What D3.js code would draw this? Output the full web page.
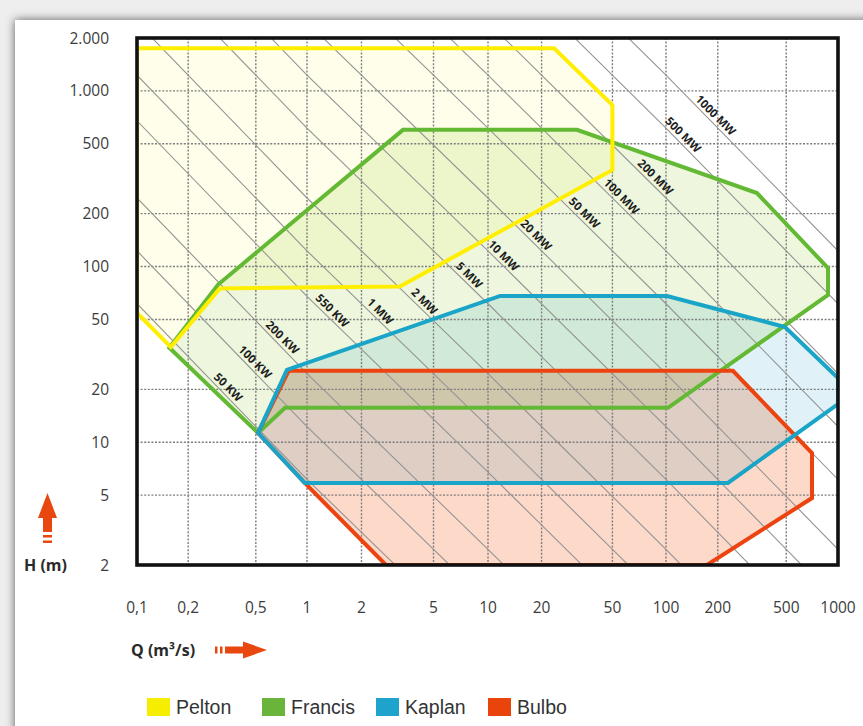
<!DOCTYPE html>
<html><head><meta charset="utf-8">
<script src="https://cdn.jsdelivr.net/npm/d3@7"></script>
<style>html,body{margin:0;padding:0;background:#fff;} svg{display:block}</style>
</head><body><svg id="c" width="863" height="726"></svg>
<script>
// ---------- data ----------
const qTicks = [0.1, 0.2, 0.5, 1, 2, 5, 10, 20, 50, 100, 200, 500, 1000];
const qTickLabels = ["0,1", "0,2", "0,5", "1", "2", "5", "10", "20", "50", "100", "200", "500", "1000"];
const hTicks = [2, 5, 10, 20, 50, 100, 200, 500, 1000, 2000];
const hTickLabels = ["2", "5", "10", "20", "50", "100", "200", "500", "1.000", "2.000"];

const turbines = ["Pelton", "Francis", "Kaplan", "Bulbo"];
// polygon vertices (Q in m3/s, H in m)
const peltonQ = [0.1, 23.5, 50, 50, 3.26, 0.307, 0.158, 0.1];
const peltonH = [1750, 1750, 830, 355, 77, 75, 34.8, 54.4];
const francisQ = [0.155, 0.30, 3.39, 31.6, 338, 875, 875, 102.7, 0.743, 0.515];
const francisH = [34.5, 79, 600, 600, 262, 98, 69, 15.7, 15.7, 11.3];
const kaplanQ = [0.515, 0.762, 11.7, 101.3, 492, 1000, 1000, 229, 0.97];
const kaplanH = [11.3, 25.8, 68, 68, 45.3, 23.2, 16.5, 5.86, 5.86];
const bulboQ = [0.515, 0.78, 245, 706, 706, 173, 2.73, 0.97];
const bulboH = [11.3, 25.5, 25.5, 8.68, 4.81, 2, 2, 5.86];

// constant-power lines (kW) with labels and where along each line (Q) the label sits
const powerKW = [50, 100, 200, 550, 1000, 2000, 5000, 10000, 20000, 50000, 100000, 200000, 500000, 1000000];
const powerLabels = ["50 KW", "100 KW", "200 KW", "550 KW", "1 MW", "2 MW", "5 MW", "10 MW", "20 MW", "50 MW", "100 MW", "200 MW", "500 MW", "1000 MW"];
const powerLabelQ = [0.32, 0.46, 0.667, 1.29, 2.37, 4.16, 7.37, 11.4, 17.4, 32.5, 52.5, 81.4, 117, 181];
const powerFactor = 9.81 * 0.83; // P[kW] = 9.81 * eta * Q * H

// ---------- styles ----------
const strokeColors = {Pelton: "#ffee00", Francis: "#63b934", Kaplan: "#1aa5c8", Bulbo: "#ec4410"};
const fillColors = {Pelton: "#fefeea", Francis: "#eef7de", Kaplan: "#e0f2f8", Bulbo: "#fdd9ca"};
const legendColors = {Pelton: "#f6ee00", Francis: "#6ab43c", Kaplan: "#1ea3cc", Bulbo: "#e8440c"};

const L = 137, R = 838, T = 38, B = 565;

const svg = d3.select("#c");
const defs = svg.append("defs");
const f = defs.append("filter").attr("id", "sh").attr("x", "-10%").attr("y", "-10%").attr("width", "120%").attr("height", "120%");
f.append("feGaussianBlur").attr("stdDeviation", 5);
defs.append("clipPath").attr("id", "plotclip").append("rect")
  .attr("x", L).attr("y", T).attr("width", R - L).attr("height", B - T);

// page background + card with soft shadow
svg.append("rect").attr("width", 863).attr("height", 726).attr("fill", "#eeeeee");
svg.append("rect").attr("x", 15).attr("y", 20).attr("width", 900).attr("height", 800).attr("fill", "#5a5a5a").attr("filter", "url(#sh)");
svg.append("rect").attr("x", 15).attr("y", 20).attr("width", 900).attr("height", 800).attr("fill", "#fff");

const x = d3.scaleLog().domain([0.1, 1, 10, 100, 1000]).range([137, 307, 488, 666, 838]);
const y = d3.scaleLog().domain([2, 2000]).range([B, T]);

const plot = svg.append("g").attr("clip-path", "url(#plotclip)");
plot.append("rect").attr("x", L).attr("y", T).attr("width", R - L).attr("height", B - T).attr("fill", "#fff");

const polys = {
  Pelton: d3.zip(peltonQ, peltonH),
  Francis: d3.zip(francisQ, francisH),
  Kaplan: d3.zip(kaplanQ, kaplanH),
  Bulbo: d3.zip(bulboQ, bulboH)
};
const line = d3.line().x(d => x(d[0])).y(d => y(d[1]));

// fills
["Pelton", "Francis", "Kaplan", "Bulbo"].forEach(t => {
  plot.append("path").attr("d", line(polys[t]) + "Z")
    .attr("fill", fillColors[t]).style("mix-blend-mode", "multiply");
});

// dotted grid
plot.append("g").selectAll("line").data(qTicks.slice(1, -1)).join("line")
  .attr("x1", d => x(d)).attr("x2", d => x(d)).attr("y1", T).attr("y2", B)
  .attr("stroke", "#7d7d7d").attr("stroke-width", 1.4).attr("stroke-dasharray", "2,1.6");
plot.append("g").selectAll("line").data(hTicks.slice(1, -1)).join("line")
  .attr("y1", d => y(d)).attr("y2", d => y(d)).attr("x1", L).attr("x2", R)
  .attr("stroke", "#7d7d7d").attr("stroke-width", 1.4).attr("stroke-dasharray", "2,1.6");

// constant power lines
const decades = [0.1, 1, 10, 100, 1000];
plot.append("g").selectAll("path").data(powerKW).join("path")
  .attr("d", p => line(decades.map(q => [q, p / (powerFactor * q)])))
  .attr("fill", "none").attr("stroke", "#949494").attr("stroke-width", 1.1);

// polygon outlines
["Francis", "Pelton", "Bulbo", "Kaplan"].forEach(t => {
  plot.append("path").attr("d", line(polys[t]) + "Z")
    .attr("fill", "none").attr("stroke", strokeColors[t]).attr("stroke-width", 4)
    .attr("stroke-linejoin", "miter");
});

// power labels
svg.append("g").selectAll("text").data(powerKW).join("text")
  .attr("transform", (p, i) => {
    const q = powerLabelQ[i];
    return `translate(${x(q)},${y(p / (powerFactor * q))}) rotate(45)`;
  })
  .attr("dy", -3.5)
  .attr("text-anchor", "middle")
  .attr("font-family", "'Open Sans', sans-serif").attr("font-weight", 700).attr("font-size", 11.5)
  .attr("fill", "#1c1c1c")
  .text((p, i) => powerLabels[i]);

// frame
svg.append("rect").attr("x", L).attr("y", T).attr("width", R - L).attr("height", B - T)
  .attr("fill", "none").attr("stroke", "#111").attr("stroke-width", 3.6);

// tick labels
svg.append("g").selectAll("text").data(hTicks).join("text")
  .attr("x", 109).attr("y", d => y(d) + 5.5).attr("text-anchor", "end")
  .attr("font-family", "'Open Sans', sans-serif").attr("font-size", 15.5).attr("fill", "#3c3c3c")
  .text((d, i) => hTickLabels[i]);
svg.append("g").selectAll("text").data(qTicks).join("text")
  .attr("x", d => x(d)).attr("y", 613).attr("text-anchor", "middle")
  .attr("font-family", "'Open Sans', sans-serif").attr("font-size", 15.5).attr("fill", "#3c3c3c")
  .text((d, i) => qTickLabels[i]);

// axis titles
const arrowColor = "#e8470f";
svg.append("text").attr("x", 24).attr("y", 571)
  .attr("font-family", "'Open Sans', sans-serif").attr("font-weight", 700).attr("font-size", 16).attr("fill", "#2a2a2a")
  .text("H (m)");
svg.append("text").attr("x", 131).attr("y", 656)
  .attr("font-family", "'Open Sans', sans-serif").attr("font-weight", 700).attr("font-size", 16).attr("fill", "#2a2a2a")
  .text("Q (m³/s)");

// up arrow
const ua = svg.append("g").attr("fill", arrowColor);
ua.append("path").attr("d", "M47.5,493 L57,518 L38,518 Z");
ua.append("rect").attr("x", 43).attr("y", 517).attr("width", 9).attr("height", 15);
ua.append("rect").attr("x", 43).attr("y", 535).attr("width", 9).attr("height", 2.5);
ua.append("rect").attr("x", 43).attr("y", 540.5).attr("width", 9).attr("height", 2.5);
// right arrow
const ra = svg.append("g").attr("fill", arrowColor);
ra.append("rect").attr("x", 215).attr("y", 646.5).attr("width", 2.5).attr("height", 7);
ra.append("rect").attr("x", 220).attr("y", 646.5).attr("width", 2.5).attr("height", 7);
ra.append("rect").attr("x", 225).attr("y", 646.5).attr("width", 20).attr("height", 7);
ra.append("path").attr("d", "M243,641.5 L267,650 L243,658.5 Z");

// legend
const legendX = [147, 262, 376, 488];
const lg = svg.append("g").selectAll("g").data(turbines).join("g")
  .attr("transform", (d, i) => `translate(${legendX[i]},698)`);
lg.append("rect").attr("width", 23).attr("height", 18).attr("fill", d => legendColors[d]);
lg.append("text").attr("x", 29).attr("y", 16)
  .attr("font-family", "'Liberation Sans', Arial, sans-serif").attr("font-size", 19.5).attr("fill", "#333")
  .text(d => d);
</script>
</body></html>
